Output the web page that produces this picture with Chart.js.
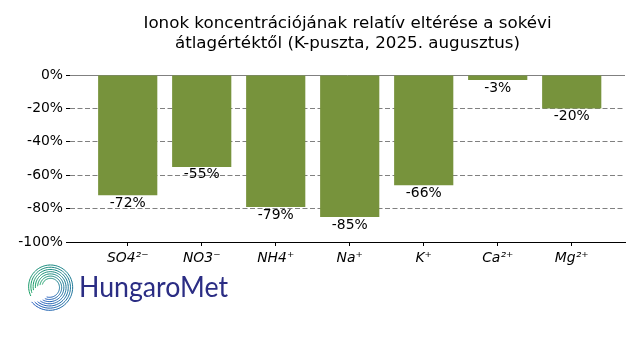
<!DOCTYPE html>
<html>
<head>
<meta charset="utf-8">
<script src="https://cdn.jsdelivr.net/npm/chart.js@4/dist/chart.umd.min.js"></script>
<style>
html,body{margin:0;padding:0;background:#fff;}
#wrap{width:640px;height:360px;position:relative;}
</style>
</head>
<body>
<div id="wrap"><canvas id="c" width="640" height="360"></canvas></div>
<script>
const categories = ['SO4²⁻', 'NO3⁻', 'NH4⁺', 'Na⁺', 'K⁺', 'Ca²⁺', 'Mg²⁺'];
const values = [-72, -55, -79, -85, -66, -3, -20];
const yTicks = [0, -20, -40, -60, -80, -100];
const titleLines = ['Ionok koncentrációjának relatív eltérése a sokévi', 'átlagértéktől (K-puszta, 2025. augusztus)'];

const FONT = "'DejaVu Sans', sans-serif";

const labelPlugin = {
  id: 'valueLabels',
  afterDatasetsDraw(chart) {
    const ctx = chart.ctx;
    const meta = chart.getDatasetMeta(0);
    ctx.save();
    ctx.font = "13.9px " + FONT;
    ctx.fillStyle = '#000';
    ctx.textAlign = 'center';
    ctx.textBaseline = 'top';
    meta.data.forEach((bar, i) => {
      ctx.fillText(values[i] + '%', bar.x, bar.y + 1);
    });
    ctx.restore();
  }
};

const logoPlugin = {
  id: 'logo',
  afterDraw(chart) {
    const ctx = chart.ctx;
    ctx.save();
    // spiral mark
    const cx = 50, cy = 287;
    for (let k = 0; k < 7; k++) {
      const r = 8 + k * 2.2;
      const start = Math.PI * (1.1 - 0.04 * k);
      const end = Math.PI * (2.6 + 0.03 * k);
      const steps = 40;
      for (let s = 0; s < steps; s++) {
        const a0 = start + (end - start) * s / steps;
        const a1 = start + (end - start) * (s + 1) / steps;
        const f = s / steps;
        const g = Math.round(160 - 70 * f);
        const b = Math.round(100 + 90 * f);
        ctx.strokeStyle = 'rgb(' + Math.round(25 + 10 * f) + ',' + g + ',' + b + ')';
        ctx.lineWidth = 1;
        ctx.beginPath();
        ctx.arc(cx, cy, r + f * 2.5, a0, a1 + 0.01);
        ctx.stroke();
      }
    }
    // wordmark
    ctx.fillStyle = '#2b2d84';
    ctx.font = "400 28px Lato, 'Open Sans', sans-serif";
    ctx.textBaseline = 'alphabetic';
    ctx.textAlign = 'left';
    const txt = 'HungaroMet';
    const w = ctx.measureText(txt).width;
    ctx.translate(79, 297);
    ctx.scale(149 / w, 1);
    ctx.fillText(txt, 0, 0);
    ctx.restore();
  }
};

new Chart(document.getElementById('c'), {
  type: 'bar',
  data: {
    datasets: [{
      data: values.map((v, i) => ({ x: i, y: v })),
      backgroundColor: '#77933c',
      borderWidth: 0,
      categoryPercentage: 1.0,
      barPercentage: 0.8
    }]
  },
  options: {
    responsive: false,
    animation: false,
    layout: { padding: { left: 0, right: 15, top: 0, bottom: 0 } },
    plugins: {
      legend: { display: false },
      tooltip: { enabled: false },
      title: {
        display: true,
        text: titleLines,
        fullSize: false,
        color: '#000',
        font: { family: FONT, size: 16.7, weight: 'normal', lineHeight: 1.2 },
        padding: { top: 14, bottom: 21 }
      }
    },
    scales: {
      x: {
        type: 'linear',
        offset: false,
        min: -0.78,
        max: 6.72,
        afterBuildTicks(scale) { scale.ticks = categories.map((c, i) => ({ value: i })); },
        afterFit(scale) { scale.height = 118; },
        ticks: {
          callback: (v) => categories[v],
          color: '#000',
          font: { family: FONT, size: 13.9, style: 'italic' },
          padding: 4,
          maxRotation: 0,
          autoSkip: false
        },
        grid: { offset: false, drawOnChartArea: false, drawTicks: true, tickLength: 4, tickColor: '#000', tickWidth: 1 },
        border: { display: true, color: '#000', width: 1 }
      },
      y: {
        min: -100,
        max: 0,
        afterBuildTicks(scale) { scale.ticks = yTicks.map(v => ({ value: v })); },
        afterFit(scale) { scale.width = 70; },
        ticks: {
          callback: (v) => v + '%',
          color: '#000',
          font: { family: FONT, size: 13.9 },
          padding: 3
        },
        grid: {
          color: (ctx) => (ctx.tick && ctx.tick.value === -100) ? 'rgba(0,0,0,0)' : '#808080',
          lineWidth: 1,
          tickLength: 4,
          tickColor: '#000',
          tickWidth: 1,
          tickBorderDash: []
        },
        border: {
          display: false,
          dash: (ctx) => (ctx.tick && ctx.tick.value === 0) ? [] : [5, 2.5]
        }
      }
    }
  },
  plugins: [labelPlugin, logoPlugin]
});
</script>
</body>
</html>
